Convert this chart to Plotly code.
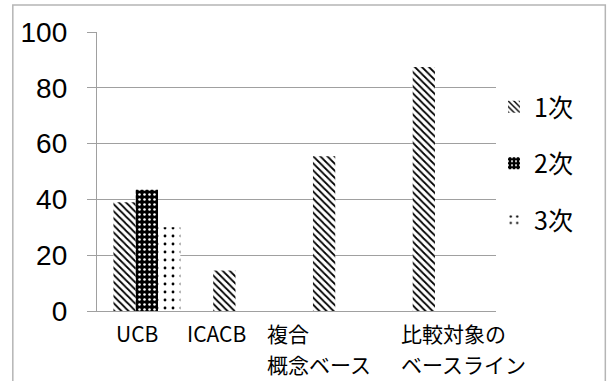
import plotly.graph_objects as go

categories = ["UCB", "ICACB", "複合<br>概念ベース", "比較対象の<br>ベースライン"]
series_names = ["1次", "2次", "3次"]
v1 = [39, 14.5, 55.5, 87.5]
v2 = [43.5, 0, 0, 0]
v3 = [30, 0, 0, 0]
y_ticks = [0, 20, 40, 60, 80, 100]

# label placement (pixel shifts from category centre, alignment)
label_shift = [-10, -30, -80, -46]
label_anchor = ["center", "center", "left", "left"]
line_yshift = [-22, -53]

patterns = [
    dict(shape="\\", fgcolor="black", bgcolor="white", size=5, solidity=0.35, fillmode="replace"),
    dict(shape=".", fgcolor="white", bgcolor="black", size=5, solidity=0.2, fillmode="replace"),
    dict(shape=".", fgcolor="black", bgcolor="white", size=8, solidity=0.1, fillmode="replace"),
]

fig = go.Figure()
for i, (name, vals) in enumerate(zip(series_names, [v1, v2, v3])):
    fig.add_trace(go.Bar(
        x=categories, y=vals, name=name, legendgroup=name,
        marker=dict(color="white" if i != 1 else "black", pattern=patterns[i], line=dict(width=0)),
    ))

for i, c in enumerate(categories):
    for j, line in enumerate(c.split("<br>")):
        fig.add_annotation(
            x=c, xref="x", y=0, yref="y", yanchor="middle", yshift=line_yshift[j],
            xshift=label_shift[i], borderpad=0,
            text=line, showarrow=False, xanchor=label_anchor[i],
            font=dict(family="Noto Sans CJK JP", size=21, color="black"),
        )

fig.add_shape(type="rect", xref="paper", yref="paper",
              x0=-0.211, x1=1.274, y0=-0.3, y1=1.097,
              line=dict(color="#b5b5b5", width=1.5), fillcolor="rgba(0,0,0,0)", layer="below")

fig.update_layout(
    width=608, height=381,
    margin=dict(l=97, r=112, t=32, b=70, autoexpand=False),
    paper_bgcolor="white", plot_bgcolor="white",
    barmode="group", bargap=0.33, bargroupgap=0,
    showlegend=True,
    legend=dict(xref="container", yref="container", x=494 / 608, xanchor="left",
                y=1 - 84 / 381, yanchor="top",
                font=dict(family="Noto Sans CJK JP", size=25, color="black"),
                tracegroupgap=21, bgcolor="rgba(0,0,0,0)"),
    xaxis=dict(range=[-0.5, 3.5], showticklabels=False, showgrid=False, showline=True,
               linecolor="#a0a0a0", linewidth=1.3, ticks=""),
    yaxis=dict(range=[0, 100], tickvals=y_ticks, showgrid=True, gridcolor="#a0a0a0",
               gridwidth=1.3, showline=True, linecolor="#a0a0a0", linewidth=1.3,
               ticks="outside", ticklen=9, tickcolor="#a0a0a0", tickwidth=1.3,
               ticklabelstandoff=14, zeroline=False,
               tickfont=dict(family="Liberation Sans", size=28, color="black")),
)

fig.write_html("out.html")
